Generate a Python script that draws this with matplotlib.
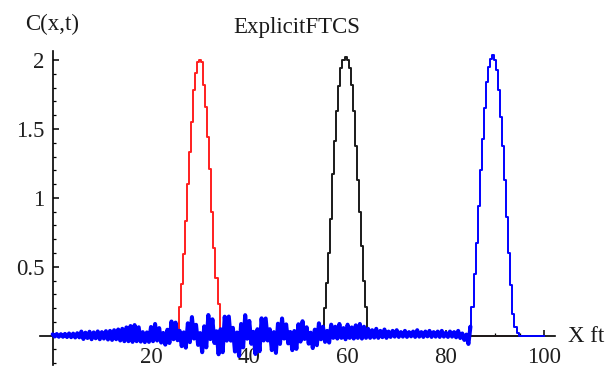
import numpy as np
import matplotlib
matplotlib.use("Agg")
import matplotlib.pyplot as plt
from matplotlib.ticker import FixedLocator, MultipleLocator, FuncFormatter

# ---------------- data ----------------
dx = 5.0 / 12.0                      # grid spacing in ft
n_points = 241                       # grid 0 .. 100 ft

# red curve (early time), peak near x = 30
red_start = 62
red_peak = [0.21, 0.376, 0.594, 0.836, 1.10, 1.33, 1.55, 1.78, 1.91, 1.99,
            2.00, 1.99, 1.82, 1.66, 1.44, 1.21, 0.90, 0.64, 0.42, 0.23]

# black curve (middle time), peak near x = 60
black_start = 133
black_peak = [0.20, 0.38, 0.60, 0.85, 1.17, 1.41, 1.63, 1.81, 1.94, 2.00,
              2.02, 2.00, 1.94, 1.82, 1.63, 1.38, 1.13, 0.90, 0.65, 0.40, 0.21]

# blue curve (late time): oscillating tail from x = 0, then the peak near x = 90
blue_tail = [
    0.010, -0.006, 0.012, -0.008, 0.011, -0.008, 0.013, -0.010, 0.016, -0.011,
    0.015, -0.013, 0.018, -0.012, 0.030, -0.024, 0.022, -0.017, 0.029, -0.026,
    0.024, -0.019, 0.031, -0.026, 0.026, -0.021, 0.033, -0.028, 0.035, -0.031,
    0.040, -0.026, 0.045, -0.035, 0.050, -0.040, 0.060, -0.040, 0.070, -0.045,
    0.077, -0.040, 0.061, -0.043, 0.026, -0.047, 0.024, -0.045, 0.063, -0.040,
    0.085, -0.035, 0.055, -0.050, 0.020, -0.065, 0.043, -0.053, 0.103, -0.026,
    0.095, -0.033, 0.035, -0.076, 0.024, -0.087, 0.090, -0.047, 0.135, -0.021,
    0.079, -0.067, 0.019, -0.120, 0.068, -0.085, 0.150, -0.025, 0.119, -0.053,
    0.032, -0.135, 0.047, -0.120, 0.138, -0.036, 0.139, -0.036, 0.057, -0.115,
    0.023, -0.148, 0.085, -0.085, 0.149, -0.022, 0.107, -0.059, 0.028, -0.133,
    0.047, -0.113, 0.126, -0.035, 0.125, -0.035, 0.047, -0.105, 0.026, -0.125,
    0.087, -0.060, 0.125, -0.021, 0.082, -0.056, 0.027, -0.105, 0.034, -0.096,
    0.083, -0.043, 0.105, -0.024, 0.061, -0.058, 0.022, -0.090, 0.044, -0.069,
    0.090, -0.026, 0.065, -0.045, 0.035, -0.050, 0.080, -0.016, 0.065, -0.021,
    0.085, -0.016, 0.055, -0.026, 0.080, -0.016, 0.060, -0.021, 0.075, -0.016,
    0.085, -0.021, 0.065, -0.016, 0.050, -0.016, 0.040, -0.014, 0.050, -0.016,
    0.035, -0.011, 0.045, -0.016, 0.030, -0.009, 0.035, -0.007, 0.040, -0.009,
    0.026, -0.007, 0.035, -0.009, 0.026, -0.005, 0.030, -0.009, 0.040, -0.007,
    0.026, -0.009, 0.030, -0.005, 0.035, -0.009, 0.026, -0.007, 0.030, -0.009,
    0.035, -0.007, 0.021, -0.009, 0.030, -0.007, 0.026, -0.012, 0.035, -0.017,
    0.016, -0.031, 0.008, -0.060,
]
blue_peak = [0.066, 0.21, 0.45, 0.67, 0.94, 1.20, 1.43, 1.65, 1.84, 1.95, 2.01, 2.04,
             2.00, 1.93, 1.78, 1.59, 1.38, 1.13, 0.86, 0.60, 0.37, 0.16, 0.066, 0.02]

x_major_ticks = [20, 40, 60, 80, 100]
y_major_ticks = [0.5, 1.0, 1.5, 2.0]
title_text = "ExplicitFTCS"
y_label_text = "C(x,t)"
x_label_text = "X ft"

# ---------------- build series ----------------
x = np.arange(n_points) * dx
red = np.zeros(n_points)
red[red_start:red_start + len(red_peak)] = red_peak
black = np.zeros(n_points)
black[black_start:black_start + len(black_peak)] = black_peak
blue = np.zeros(n_points)
n_tail = len(blue_tail)
blue[:n_tail] = blue_tail
blue[n_tail:n_tail + len(blue_peak)] = blue_peak

# ---------------- figure ----------------
plt.rcParams['font.family'] = ['Liberation Serif', 'DejaVu Serif']
W, H = 608, 371
fig = plt.figure(figsize=(W / 100, H / 100), dpi=100)
ax = fig.add_axes([40.4 / W, 5.7 / H, 514.6 / W, 314.8 / H])
ax.set_xlim(-2.5, 102.2)
ax.set_ylim(-0.215, 2.07)

lw = 1.4
blue_c = (0.0, 0.0, 1.0)
ax.plot(x, red, color=(1.0, 0.12, 0.12), lw=lw, drawstyle='steps-mid', zorder=3)
ax.plot(x, black, color='#1a1a1a', lw=lw, drawstyle='steps-mid', zorder=4)
# oscillating tail: dense zig-zag polyline (renders as a solid band), peak: staircase
ax.plot(x[:n_tail + 1], blue[:n_tail + 1], color=blue_c, lw=2.9, zorder=5,
        solid_joinstyle='round', solid_capstyle='round')
ax.plot(x[n_tail - 1:], blue[n_tail - 1:], color=blue_c, lw=lw,
        drawstyle='steps-mid', zorder=5)

for s in ('top', 'right'):
    ax.spines[s].set_visible(False)
ax.spines['left'].set_position(('data', 0))
ax.spines['bottom'].set_position(('data', 0))
for s in ('left', 'bottom'):
    ax.spines[s].set_linewidth(1.2)
    ax.spines[s].set_color('black')

ax.xaxis.set_major_locator(FixedLocator(x_major_ticks))
ax.xaxis.set_minor_locator(MultipleLocator(5))
ax.yaxis.set_major_locator(FixedLocator(y_major_ticks))
ax.yaxis.set_minor_locator(MultipleLocator(0.1))
ax.xaxis.set_major_formatter(FuncFormatter(lambda v, p: f"{v:g}"))
ax.yaxis.set_major_formatter(FuncFormatter(lambda v, p: f"{v:g}"))

ax.tick_params(which='major', direction='in', length=4.5, width=1.1, color='black',
               labelsize=16.5, labelcolor='#1f1f1f')
ax.tick_params(axis='x', which='major', pad=8)
ax.tick_params(axis='y', which='major', pad=6)
ax.tick_params(which='minor', direction='in', length=2.5, width=0.9, color='black')

fig.text(297 / W, 1 - 33.3 / H, title_text, ha='center', va='baseline',
         fontsize=16.5, color='#1a1a1a')
fig.text(25 / W, 1 - 30 / H, y_label_text, ha='left', va='baseline',
         fontsize=16.5, color='#1a1a1a')
fig.text(568 / W, 1 - 341.7 / H, x_label_text, ha='left', va='baseline',
         fontsize=16.5, color='#1a1a1a')

fig.savefig("out.png", dpi=100)
